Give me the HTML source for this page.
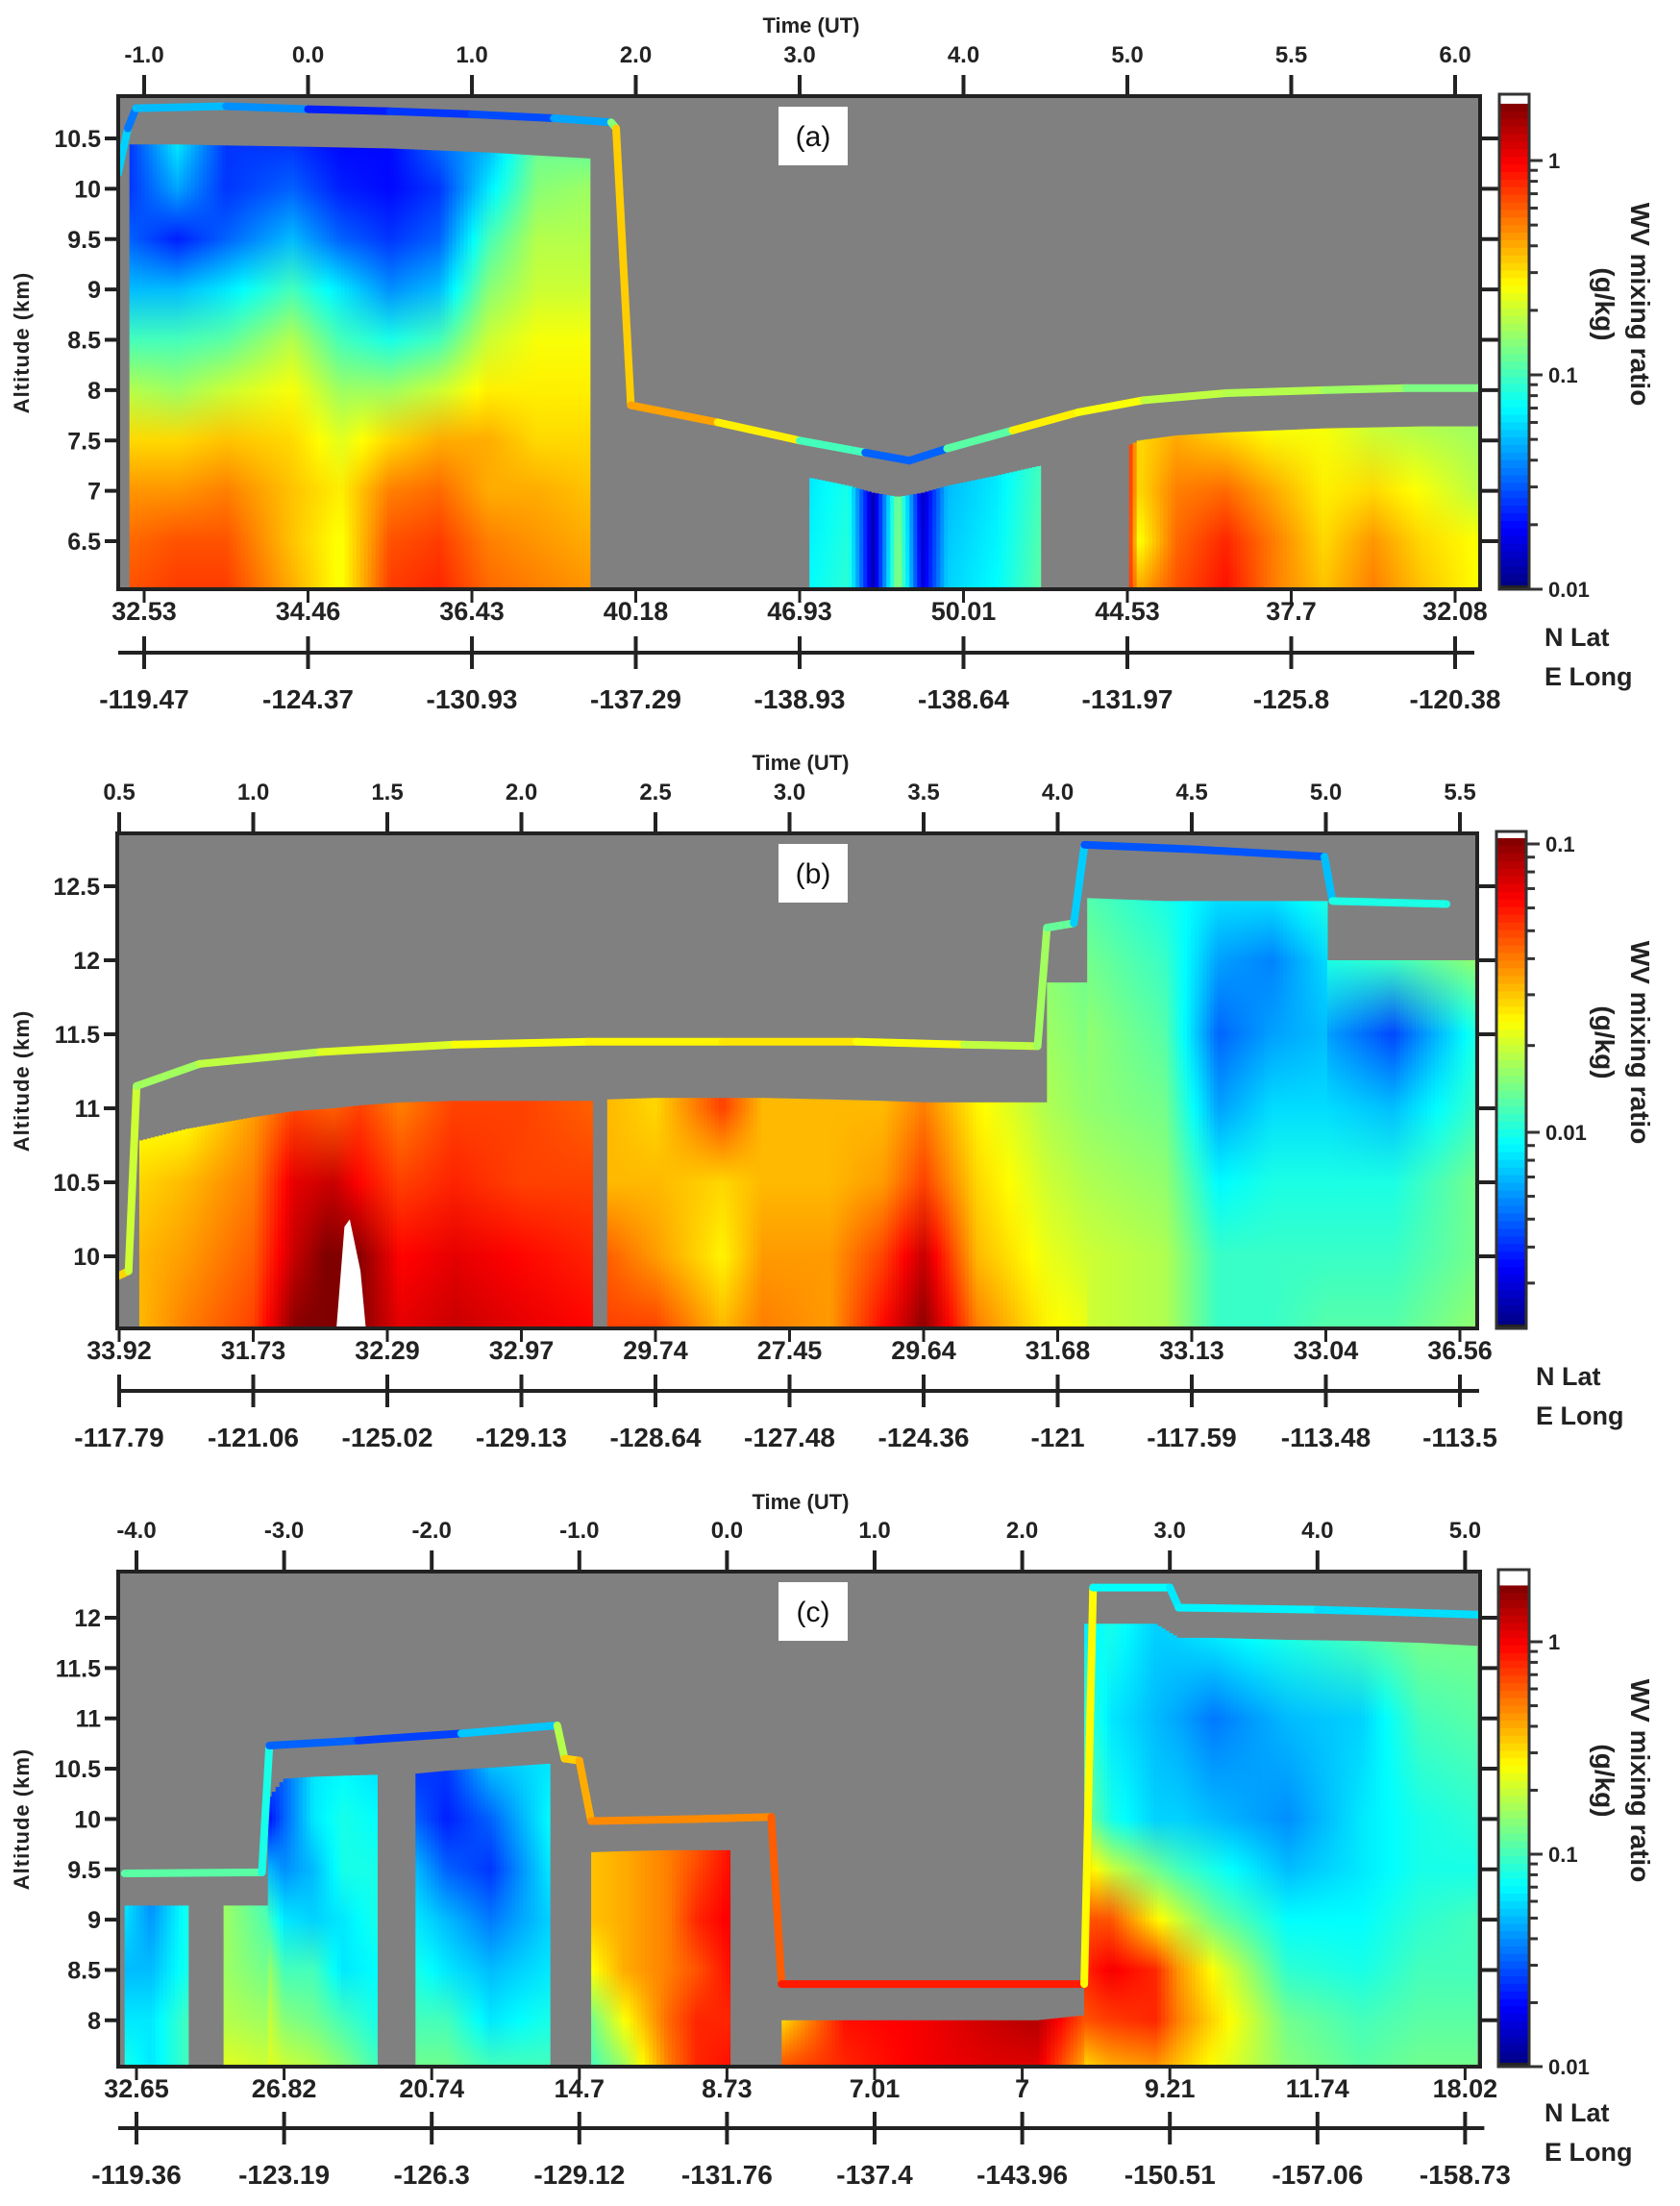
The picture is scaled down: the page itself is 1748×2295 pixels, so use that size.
<!DOCTYPE html>
<html><head><meta charset="utf-8"><title>WV mixing ratio curtains</title>
<style>
html,body{margin:0;padding:0;background:#fff;}
svg{display:block;font-family:"Liberation Sans",Arial,sans-serif;}
</style></head>
<body>
<svg id="fig" width="1748" height="2295" viewBox="0 0 1748 2295" xmlns="http://www.w3.org/2000/svg">
<defs id="defs"></defs>
</svg>
<script>
// ---------------- Panel (a) data ----------------
const aTimeLabels = ["-1.0","0.0","1.0","2.0","3.0","4.0","5.0","5.5","6.0"];
const aLatLabels = ["32.53","34.46","36.43","40.18","46.93","50.01","44.53","37.7","32.08"];
const aLonLabels = ["-119.47","-124.37","-130.93","-137.29","-138.93","-138.64","-131.97","-125.8","-120.38"];
const aAltTicks = [6.5,7,7.5,8,8.5,9,9.5,10,10.5];
const aCbarTicks = [0.01,0.1,1];
const aR1U = [-0.09,0.2,0.5,0.9,1.2,1.5,1.8,2.1,2.4,2.72];
const aR1Top = [10.44,10.44,10.43,10.42,10.41,10.4,10.38,10.36,10.33,10.3];
const aR1Lev = [10.45,10.0,9.5,9.0,8.5,8.0,7.5,7.0,6.5,6.03];
const aR1Val = [
 [-1.6,-1.6,-1.5,-1.3,-1.0,-0.75,-0.5,-0.35,-0.25,-0.2],
 [-1.2,-1.35,-1.65,-1.3,-1.0,-0.8,-0.5,-0.35,-0.2,-0.15],
 [-1.6,-1.6,-1.5,-1.2,-0.95,-0.7,-0.45,-0.3,-0.2,-0.15],
 [-1.6,-1.5,-1.3,-1.0,-0.75,-0.6,-0.5,-0.45,-0.45,-0.4],
 [-1.7,-1.65,-1.5,-1.2,-1.0,-0.8,-0.65,-0.55,-0.6,-0.6],
 [-1.7,-1.7,-1.6,-1.4,-1.1,-0.8,-0.5,-0.3,-0.2,-0.15],
 [-1.5,-1.6,-1.5,-1.3,-1.0,-0.7,-0.4,-0.25,-0.15,-0.1],
 [-1.3,-1.2,-1.0,-0.85,-0.7,-0.55,-0.4,-0.4,-0.3,-0.25],
 [-0.9,-0.85,-0.75,-0.7,-0.6,-0.55,-0.5,-0.4,-0.35,-0.3],
 [-0.9,-0.8,-0.75,-0.7,-0.6,-0.55,-0.5,-0.45,-0.4,-0.35]];
const aR2U = [4.06,4.3,4.45,4.6,4.75,4.9,5.2,5.47];
const aR2Top = [7.13,7.05,6.98,6.94,6.98,7.05,7.15,7.25];
const aR2Lev = [7.2,6.03];
const aR2Val = [[-1.2,-1.15],[-1.1,-1.05],[-1.9,-1.9],[-0.85,-0.8],[-1.85,-1.8],[-1.3,-1.25],[-1.2,-1.15],[-1.0,-0.95]];
const aR3U = [6.01,6.07,6.3,6.6,6.9,7.2,7.5,7.8,8.17];
const aR3Top = [7.45,7.5,7.55,7.58,7.6,7.62,7.63,7.64,7.64];
const aR3Lev = [7.6,7.0,6.5,6.03];
const aR3Val = [[-0.1,-0.1,-0.1,-0.1],[-0.5,-0.5,-0.6,-0.4],[-0.4,-0.3,-0.25,-0.2],[-0.5,-0.25,-0.1,-0.05],[-0.6,-0.4,-0.3,-0.3],[-0.6,-0.55,-0.5,-0.45],[-0.7,-0.5,-0.35,-0.3],[-0.75,-0.6,-0.5,-0.45],[-0.8,-0.75,-0.6,-0.6]];
const aTrackU = [-0.16,-0.1,-0.05,0.5,1.0,1.5,2.0,2.5,2.85,2.88,2.97,3.5,4.0,4.4,4.67,4.9,5.3,5.7,6.1,6.6,7.2,7.7,8.16];
const aTrackAlt = [10.15,10.6,10.8,10.82,10.79,10.77,10.74,10.7,10.66,10.6,7.85,7.68,7.5,7.38,7.3,7.42,7.6,7.78,7.9,7.97,8.0,8.02,8.02];
const aTrackVal = [-1.0,-1.5,-1.4,-1.2,-1.6,-1.7,-1.5,-1.6,-1.1,-0.6,-0.35,-0.4,-0.7,-1.3,-1.7,-1.3,-0.6,-0.5,-0.7,-0.75,-0.75,-0.85,-0.9];

// ---------------- Panel (b) data ----------------
const bTimeLabels = ["0.5","1.0","1.5","2.0","2.5","3.0","3.5","4.0","4.5","5.0","5.5"];
const bLatLabels = ["33.92","31.73","32.29","32.97","29.74","27.45","29.64","31.68","33.13","33.04","36.56"];
const bLonLabels = ["-117.79","-121.06","-125.02","-129.13","-128.64","-127.48","-124.36","-121","-117.59","-113.48","-113.5"];
const bAltTicks = [10,10.5,11,11.5,12,12.5];
const bCbarTicks = [0.01,0.1];
const bR1U = [0.15,0.5,1.0,1.3,1.6,1.8,2.1,2.5,3.0,3.53];
const bR1Top = [10.78,10.86,10.94,10.98,11.0,11.02,11.04,11.05,11.05,11.05];
const bR1Lev = [11.0,10.5,10.0,9.51];
const bR1Val = [[-1.6,-1.55,-1.5,-1.5],[-1.6,-1.5,-1.45,-1.4],[-1.45,-1.4,-1.35,-1.3],[-1.3,-1.15,-1.1,-1.0],[-1.35,-1.1,-0.95,-0.95],[-1.3,-1.2,-1.0,-1.0],[-1.4,-1.3,-1.2,-1.15],[-1.3,-1.25,-1.15,-1.1],[-1.3,-1.3,-1.2,-1.15],[-1.35,-1.3,-1.25,-1.2]];
const bR2U = [3.64,4.0,4.5,4.8,5.3,5.7,6.0,6.4,6.92];
const bR2Top = [11.06,11.07,11.07,11.07,11.06,11.05,11.04,11.04,11.04];
const bR2Lev = [11.0,10.5,10.0,9.51];
const bR2Val = [[-1.5,-1.5,-1.35,-1.3],[-1.55,-1.5,-1.45,-1.3],[-1.3,-1.55,-1.6,-1.5],[-1.5,-1.5,-1.45,-1.4],[-1.5,-1.5,-1.45,-1.45],[-1.5,-1.45,-1.3,-1.2],[-1.4,-1.3,-1.1,-1.0],[-1.6,-1.55,-1.5,-1.4],[-1.75,-1.7,-1.65,-1.6]];
const bR3U = [6.92,7.22];
const bR3Top = [11.85,11.85];
const bR3Lev = [11.85,11.0,10.5,10.0,9.51];
const bR3Val = [[-1.8,-1.75,-1.7,-1.65,-1.6],[-1.85,-1.8,-1.75,-1.7,-1.65]];
const bR4U = [7.22,7.8,8.2,8.6,9.01];
const bR4Top = [12.42,12.4,12.4,12.4,12.4];
const bR4Lev = [12.4,12.0,11.5,11.0,10.5,10.0,9.51];
const bR4Val = [[-1.9,-1.85,-1.8,-1.8,-1.75,-1.7,-1.7],[-2.0,-1.95,-1.9,-1.85,-1.8,-1.75,-1.75],[-2.1,-2.2,-2.3,-2.2,-2.05,-1.95,-1.95],[-2.1,-2.25,-2.2,-2.1,-2.0,-1.95,-1.95],[-2.0,-2.1,-2.15,-2.1,-2.0,-1.95,-1.9]];
const bR5U = [9.01,9.5,10.12];
const bR5Top = [12.0,12.0,12.0];
const bR5Lev = [12.0,11.5,11.0,10.5,10.0,9.51];
const bR5Val = [[-2.0,-2.2,-2.1,-2.0,-1.95,-1.9],[-1.95,-2.35,-2.15,-2.0,-1.95,-1.9],[-1.8,-2.0,-1.95,-1.85,-1.85,-1.8]];
const bTrackU = [0.0,0.07,0.13,0.6,1.5,2.5,3.5,4.5,5.5,6.3,6.85,6.92,7.12,7.2,8.0,8.99,9.05,9.9];
const bTrackAlt = [9.87,9.9,11.15,11.3,11.38,11.43,11.45,11.45,11.45,11.43,11.42,12.22,12.25,12.78,12.75,12.7,12.4,12.38];
const bTrackVal = [-1.5,-1.6,-1.8,-1.75,-1.7,-1.65,-1.6,-1.6,-1.55,-1.7,-1.75,-1.8,-1.95,-2.3,-2.35,-2.3,-2.0,-2.0];
const bWhiteU = [1.62,1.68,1.72,1.8,1.84];
const bWhiteAlt = [9.51,10.2,10.25,9.9,9.51];

// ---------------- Panel (c) data ----------------
const cTimeLabels = ["-4.0","-3.0","-2.0","-1.0","0.0","1.0","2.0","3.0","4.0","5.0"];
const cLatLabels = ["32.65","26.82","20.74","14.7","8.73","7.01","7","9.21","11.74","18.02"];
const cLonLabels = ["-119.36","-123.19","-126.3","-129.12","-131.76","-137.4","-143.96","-150.51","-157.06","-158.73"];
const cAltTicks = [8,8.5,9,9.5,10,10.5,11,11.5,12];
const cCbarTicks = [0.01,0.1,1];
const cR1U = [-0.08,0.1,0.35];
const cR1Top = [9.14,9.14,9.14];
const cR1Lev = [9.15,8.5,8.0,7.54];
const cR1Val = [[-1.2,-1.3,-1.2,-1.1],[-1.4,-1.3,-1.2,-1.2],[-1.1,-1.1,-1.0,-1.0]];
const cR2U = [0.59,0.89];
const cR2Top = [9.14,9.14];
const cR2Lev = [9.15,8.5,8.0,7.54];
const cR2Val = [[-0.8,-0.8,-0.75,-0.65],[-1.0,-0.9,-0.8,-0.7]];
const cR3U = [0.89,1.0,1.2,1.4,1.63];
const cR3Top = [10.2,10.4,10.42,10.43,10.44];
const cR3Lev = [10.4,10.0,9.5,9.0,8.5,8.0,7.54];
const cR3Val = [[-1.6,-1.7,-1.3,-1.0,-0.8,-0.7,-0.65],[-1.5,-1.5,-1.4,-1.2,-1.0,-0.85,-0.7],[-1.2,-1.2,-1.3,-1.25,-1.0,-0.9,-0.75],[-1.15,-1.1,-1.1,-1.2,-1.2,-1.0,-0.85],[-1.2,-1.15,-1.1,-1.1,-1.15,-1.1,-1.0]];
const cR4U = [1.89,2.1,2.4,2.8];
const cR4Top = [10.45,10.48,10.51,10.55];
const cR4Lev = [10.5,10.0,9.5,9.0,8.5,8.0,7.54];
const cR4Val = [[-1.6,-1.5,-1.3,-1.2,-1.1,-1.0,-0.9],[-1.6,-1.65,-1.5,-1.3,-1.2,-1.0,-0.9],[-1.3,-1.5,-1.6,-1.45,-1.3,-1.2,-1.0],[-1.2,-1.15,-1.2,-1.25,-1.2,-1.1,-1.0]];
const cR5U = [3.08,3.3,3.6,3.8,4.02];
const cR5Top = [9.67,9.68,9.69,9.69,9.69];
const cR5Lev = [9.68,9.0,8.5,8.0,7.54];
const cR5Val = [[-0.45,-0.45,-0.6,-0.9,-1.0],[-0.4,-0.4,-0.4,-0.6,-0.8],[-0.3,-0.3,-0.3,-0.25,-0.3],[-0.2,-0.1,-0.2,-0.1,-0.1],[-0.05,0.0,-0.05,-0.1,-0.05]];
const cR6U = [4.37,4.8,5.3,5.8,6.1,6.42];
const cR6Top = [8.0,8.0,8.0,8.0,8.0,8.05];
const cR6Lev = [8.0,7.54];
const cR6Val = [[-0.5,-0.2],[-0.05,-0.1],[0.0,0.0],[0.1,0.05],[0.15,0.05],[-0.2,-0.4]];
const cR7U = [6.42,6.6,6.9,7.06,7.3,7.8,8.3,8.7,9.08];
const cR7Top = [11.94,11.94,11.94,11.8,11.8,11.78,11.77,11.75,11.72];
const cR7Lev = [11.95,11.0,10.0,9.5,9.0,8.5,8.0,7.54];
const cR7Val = [[-1.2,-1.0,-0.85,-0.5,-0.2,-0.1,-0.2,-0.5],[-1.1,-1.2,-1.1,-0.7,-0.2,0.0,-0.15,-0.4],[-1.25,-1.3,-1.25,-0.9,-0.55,-0.1,-0.1,-0.35],[-1.25,-1.35,-1.25,-1.0,-0.7,-0.35,-0.3,-0.45],[-1.2,-1.45,-1.3,-1.1,-0.9,-0.6,-0.5,-0.6],[-1.1,-1.3,-1.4,-1.3,-1.15,-1.05,-0.9,-0.85],[-1.0,-1.25,-1.2,-1.2,-1.15,-1.1,-1.0,-0.95],[-0.9,-1.0,-1.1,-1.1,-1.05,-1.0,-0.95,-0.9],[-0.9,-0.95,-1.05,-1.1,-1.0,-1.0,-0.95,-0.9]];
const cTrackU = [-0.08,0.85,0.9,1.5,2.2,2.85,2.9,3.0,3.08,3.8,4.3,4.37,6.42,6.48,7.0,7.06,8,9.11];
const cTrackAlt = [9.46,9.47,10.73,10.78,10.85,10.93,10.6,10.58,9.98,10.0,10.02,8.36,8.36,12.3,12.3,12.1,12.08,12.03];
const cTrackVal = [-1.1,-0.8,-1.4,-1.6,-1.55,-1.0,-0.5,-0.45,-0.35,-0.3,-0.35,-0.1,-0.05,-1.1,-1.2,-1.2,-1.15,-1.3];

// ---------------- rendering ----------------
const NS = "http://www.w3.org/2000/svg";
const svg = document.getElementById("fig");
const defs = document.getElementById("defs");
let gid = 0;
function mk(tag, attrs, parent){
  const e = document.createElementNS(NS, tag);
  for (const k in attrs) e.setAttribute(k, attrs[k]);
  (parent||svg).appendChild(e);
  return e;
}
function cl(v){return Math.max(0,Math.min(1,v));}
function jet(t){
  t = cl(t);
  const r = cl(1.5-Math.abs(4*t-3)), g = cl(1.5-Math.abs(4*t-2)), b = cl(1.5-Math.abs(4*t-1));
  return "rgb("+Math.round(r*255)+","+Math.round(g*255)+","+Math.round(b*255)+")";
}
function lerp(arr, i, f){return arr[i]+(arr[i+1]-arr[i])*f;}

function drawPanel(L, D){
  const g = mk("g", {});
  
  
  const xs = u => L.x0 + u*L.dx;
  const ys = a => L.yRef - (a-L.altRef)*L.pk;
  const col = v => jet((v-L.vmin)/(L.vmax-L.vmin));
  // background
  const bg = mk("rect",{x:L.bx0,y:L.by0,width:L.bx1-L.bx0,height:L.by1-L.by0,fill:"#808080"},g);
  
  
  // clip
  const cid = "clip"+(gid++);
  const cp = mk("clipPath",{id:cid},defs);
  mk("rect",{x:L.bx0,y:L.by0,width:L.bx1-L.bx0,height:L.by1-L.by0},cp);
  const cg = mk("g",{"clip-path":"url(#"+cid+")"},g);
  
  
  // regions
  D.regions.forEach(R=>{
    const rg = mk("g",{},cg);
    
    
    const xa = xs(R.u[0]), xb = xs(R.u[R.u.length-1]);
    const step = 4;
    for (let x = xa; x < xb; x += step){
      const w = Math.min(step, xb-x);
      const u = ((x + w/2) - L.x0)/L.dx;
      let i = 0;
      while (i < R.u.length-2 && u > R.u[i+1]) i++;
      const f = cl((u-R.u[i])/(R.u[i+1]-R.u[i]));
      const top = lerp(R.top, i, f);
      const yT = ys(top), yB = L.by1;
      const id = "gr"+(gid++);
      const gr = mk("linearGradient",{id:id,gradientUnits:"userSpaceOnUse",x1:0,y1:yT,x2:0,y2:yB},defs);
      R.lev.forEach((lv,k)=>{
        const v = R.val[i][k] + (R.val[i+1][k]-R.val[i][k])*f;
        const off = cl((ys(lv)-yT)/(yB-yT));
        mk("stop",{offset:off.toFixed(4),"stop-color":col(v)},gr);
      });
      const r = mk("rect",{x:x.toFixed(2),y:yT.toFixed(2),width:(w+0.6).toFixed(2),height:(yB-yT).toFixed(2),fill:"url(#"+id+")"},rg);
      
      
    }
  });
  if (D.whiteU){
    let p = "";
    D.whiteU.forEach((u,i)=>{p += (i?"L":"M")+xs(u).toFixed(1)+","+ys(D.whiteAlt[i]).toFixed(1);});
    const wp = mk("path",{d:p+"Z",fill:"#fff"},cg);
    
    
  }
  // flight track
  const tg = mk("g",{},cg);
  
  
  for (let i=0;i<D.tu.length-1;i++){
    const s = mk("line",{x1:xs(D.tu[i]),y1:ys(D.ta[i]),x2:xs(D.tu[i+1]),y2:ys(D.ta[i+1]),stroke:col((D.tv[i]+D.tv[i+1])/2),"stroke-width":L.tw,"stroke-linecap":"round"},tg);
    
    
  }
  // frame
  const fr = mk("rect",{x:L.bx0,y:L.by0,width:L.bx1-L.bx0,height:L.by1-L.by0,fill:"none",stroke:"#222",
    "stroke-width":4},g);
  
  
  // panel label
  const lb = mk("rect",{x:L.lx,y:L.ly,width:72,height:61,fill:"#fff"},g);
  
  
  const lt = mk("text",{x:L.lx+36,y:L.ly+41,"text-anchor":"middle","font-size":30,fill:"#111"},g);
  lt.textContent = L.label;
  
  
  // top time axis
  const tt = mk("text",{x:L.titleX,y:L.titleY,"text-anchor":"middle","font-size":22,"font-weight":"bold",fill:"#222"},g);
  tt.textContent = "Time (UT)";
  
  
  D.time.forEach((s,i)=>{
    const x = xs(i);
    const tk = mk("line",{x1:x,y1:L.by0-22,x2:x,y2:L.by0,stroke:"#222","stroke-width":4},g);
    
    
    const t = mk("text",{x:x,y:L.by0-35,"text-anchor":"middle","font-size":24,"font-weight":"bold",fill:"#222"},g);
    t.textContent = s;
    
    
  });
  // lat ticks & labels
  D.lat.forEach((s,i)=>{
    const x = xs(i);
    const tk = mk("line",{x1:x,y1:L.by1,x2:x,y2:L.by1+14,stroke:"#222","stroke-width":3},g);
    
    
    const t = mk("text",{x:x,y:L.by1+32,"text-anchor":"middle","font-size":27,"font-weight":"bold",fill:"#222"},g);
    t.textContent = s;
    
    
  });
  // lon axis
  const la = mk("line",{x1:L.bx0,y1:L.lonY,x2:L.bx1-(L.bx1-xs(D.lon.length-1))+20,y2:L.lonY,stroke:"#222","stroke-width":4},g);
  
  
  D.lon.forEach((s,i)=>{
    const x = xs(i);
    const tk = mk("line",{x1:x,y1:L.lonY-17,x2:x,y2:L.lonY+17,stroke:"#222","stroke-width":4},g);
    
    
    const t = mk("text",{x:x,y:L.lonY+58,"text-anchor":"middle","font-size":28,"font-weight":"bold",fill:"#222"},g);
    t.textContent = s;
    
    
  });
  const nl = mk("text",{x:L.nlX,y:L.nlY,"font-size":27,"font-weight":"bold",fill:"#222"},g);
  nl.textContent = "N Lat";
  
  
  const el = mk("text",{x:L.nlX,y:L.nlY+41,"font-size":27,"font-weight":"bold",fill:"#222"},g);
  el.textContent = "E Long";
  
  
  // y axis
  D.alt.forEach(a=>{
    const y = ys(a);
    const tk = mk("line",{x1:L.bx0-14,y1:y,x2:L.bx0,y2:y,stroke:"#222","stroke-width":4},g);
    
    
    const tr = mk("line",{x1:L.bx1,y1:y,x2:L.cx0,y2:y,stroke:"#222","stroke-width":4},g);
    
    
    const t = mk("text",{x:L.bx0-18,y:y+9,"text-anchor":"end","font-size":25,"font-weight":"bold",fill:"#222"},g);
    t.textContent = String(a);
    
    
  });
  const yt = mk("text",{x:0,y:0,"text-anchor":"middle","font-size":22,"font-weight":"bold",fill:"#222",
    transform:"translate(30,"+((L.by0+L.by1)/2)+") rotate(-90)","letter-spacing":"1"},g);
  yt.textContent = "Altitude (km)";
  
  
  // colorbar
  const cbg = mk("g",{},g);
  
  
  const cby = lv => L.cRefY - (lv - L.cRefL)*L.cDec;
  const yTopCol = cby(L.vmax), yBotCol = cby(L.vmin);
  mk("rect",{x:L.cx0,y:L.by0-2,width:L.cx1-L.cx0,height:L.by1-L.by0+2,fill:"#fff"},cbg);
  const nSeg = 64;
  for (let k=0;k<nSeg;k++){
    const v0 = L.vmax - (L.vmax-L.vmin)*k/nSeg;
    const y0 = cby(v0), y1 = cby(L.vmax - (L.vmax-L.vmin)*(k+1)/nSeg);
    const r = mk("rect",{x:L.cx0,y:y0.toFixed(2),width:L.cx1-L.cx0,height:(y1-y0+0.8).toFixed(2),fill:col(v0-(L.vmax-L.vmin)/(2*nSeg))},cbg);
    
    
  }
  mk("rect",{x:L.cx0,y:yBotCol-4,width:L.cx1-L.cx0,height:L.by1-yBotCol+4,fill:"#222"},cbg);
  const cf = mk("rect",{x:L.cx0,y:L.by0-2,width:L.cx1-L.cx0,height:L.by1-L.by0+2,fill:"none",stroke:"#333","stroke-width":3},cbg);
  
  
  const dlo = Math.floor(L.vmin), dhi = Math.ceil(L.vmax);
  for (let d=dlo; d<=dhi; d++){
    for (let m=1;m<=9;m++){
      const lv = d + Math.log10(m);
      if (lv < L.vmin-0.001 || lv > L.vmax) continue;
      const y = cby(lv);
      const tk = mk("line",{x1:L.cx1,y1:y,x2:L.cx1+(m===1?14:9),y2:y,stroke:"#333","stroke-width":3},cbg);
      
      
    }
  }
  D.cticks.forEach(v=>{
    const y = cby(Math.log10(v));
    const t = mk("text",{x:L.cx1+20,y:y+8,"font-size":22,"font-weight":"bold",fill:"#222"},cbg);
    t.textContent = String(v);
    
    
  });
  const cmid = (L.by0+L.by1)/2 - 40;
  const ct1 = mk("text",{x:0,y:0,"text-anchor":"middle","font-size":28,"font-weight":"bold",fill:"#222",
    transform:"translate(1697,"+cmid+") rotate(90)"},cbg);
  ct1.textContent = "WV mixing ratio";
  
  
  const ct2 = mk("text",{x:0,y:0,"text-anchor":"middle","font-size":28,"font-weight":"bold",fill:"#222",
    transform:"translate(1660,"+cmid+") rotate(90)"},cbg);
  ct2.textContent = "(g/kg)";
  
  
}

drawPanel(
 {name:"panel-a",label:"(a)",x0:150,dx:170.5,altRef:10.5,yRef:144,pk:104.75,bx0:123,bx1:1540,by0:100,by1:613,
  vmin:-2,vmax:0.265,cx0:1560,cx1:1591,cRefY:167,cRefL:0,cDec:223,lx:810,ly:111,tw:8,titleX:844,titleY:34,
  lonY:679,nlX:1607,nlY:672},
 {regions:[{u:aR1U,top:aR1Top,lev:aR1Lev,val:aR1Val},{u:aR2U,top:aR2Top,lev:aR2Lev,val:aR2Val},{u:aR3U,top:aR3Top,lev:aR3Lev,val:aR3Val}],
  tu:aTrackU,ta:aTrackAlt,tv:aTrackVal,time:aTimeLabels,lat:aLatLabels,lon:aLonLabels,alt:aAltTicks,cticks:aCbarTicks});

drawPanel(
 {name:"panel-b",label:"(b)",x0:124,dx:139.5,altRef:12.5,yRef:922,pk:154,bx0:122,bx1:1537,by0:867,by1:1382,
  vmin:-2.68,vmax:-0.98,cx0:1557,cx1:1588,cRefY:878,cRefL:-1,cDec:300,lx:810,ly:878,tw:8,titleX:833,titleY:801,
  lonY:1447,nlX:1598,nlY:1441},
 {regions:[{u:bR1U,top:bR1Top,lev:bR1Lev,val:bR1Val},{u:bR2U,top:bR2Top,lev:bR2Lev,val:bR2Val},{u:bR3U,top:bR3Top,lev:bR3Lev,val:bR3Val},{u:bR4U,top:bR4Top,lev:bR4Lev,val:bR4Val},{u:bR5U,top:bR5Top,lev:bR5Lev,val:bR5Val}],
  whiteU:bWhiteU,whiteAlt:bWhiteAlt,
  tu:bTrackU,ta:bTrackAlt,tv:bTrackVal,time:bTimeLabels,lat:bLatLabels,lon:bLonLabels,alt:bAltTicks,cticks:bCbarTicks});

drawPanel(
 {name:"panel-c",label:"(c)",x0:142,dx:153.6,altRef:12,yRef:1683,pk:104.7,bx0:123,bx1:1540,by0:1635,by1:2150,
  vmin:-2,vmax:0.265,cx0:1559,cx1:1591,cRefY:1708,cRefL:0,cDec:221,lx:810,ly:1646,tw:8,titleX:833,titleY:1570,
  lonY:2214,nlX:1607,nlY:2207},
 {regions:[{u:cR1U,top:cR1Top,lev:cR1Lev,val:cR1Val},{u:cR2U,top:cR2Top,lev:cR2Lev,val:cR2Val},{u:cR3U,top:cR3Top,lev:cR3Lev,val:cR3Val},{u:cR4U,top:cR4Top,lev:cR4Lev,val:cR4Val},{u:cR5U,top:cR5Top,lev:cR5Lev,val:cR5Val},{u:cR6U,top:cR6Top,lev:cR6Lev,val:cR6Val},{u:cR7U,top:cR7Top,lev:cR7Lev,val:cR7Val}],
  tu:cTrackU,ta:cTrackAlt,tv:cTrackVal,time:cTimeLabels,lat:cLatLabels,lon:cLonLabels,alt:cAltTicks,cticks:cCbarTicks});
</script>
</body></html>
